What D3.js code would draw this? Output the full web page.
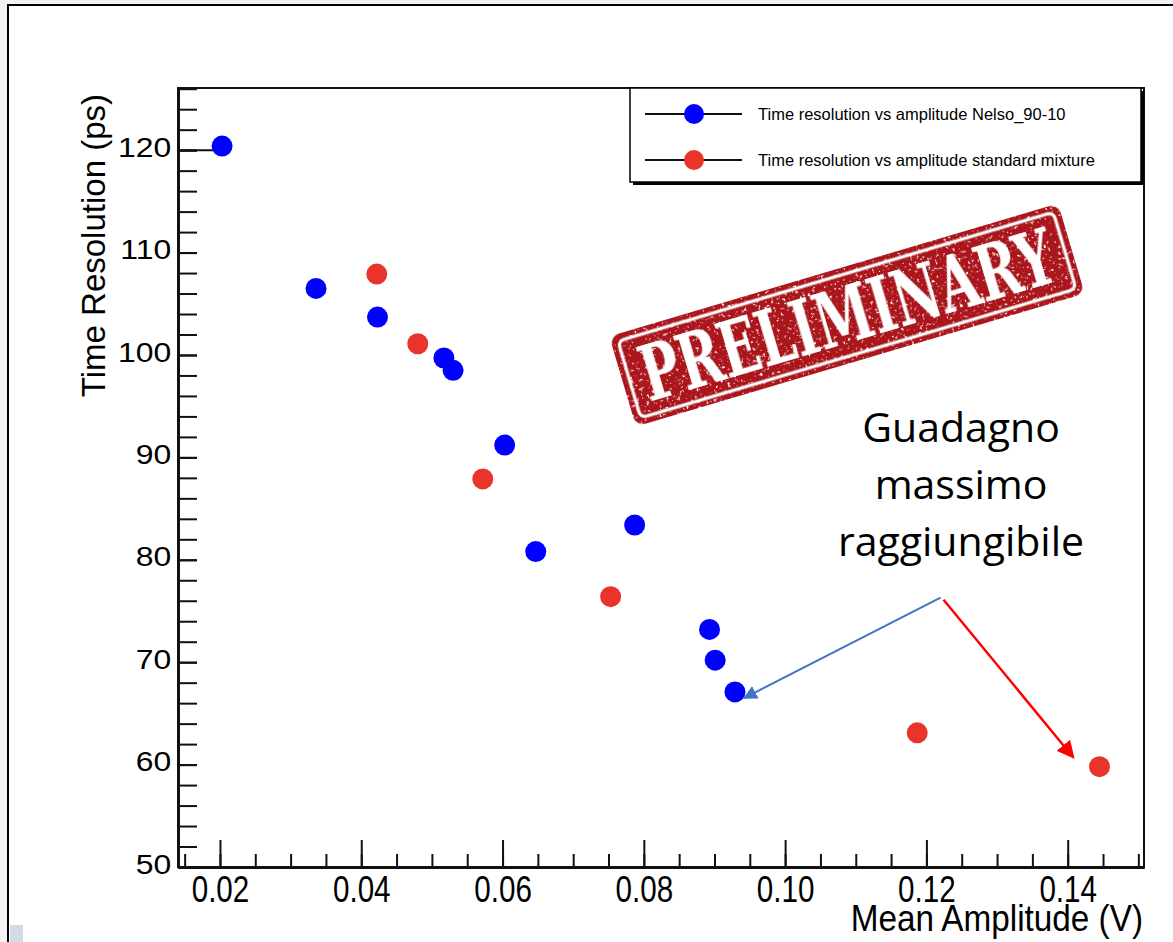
<!DOCTYPE html>
<html>
<head>
<meta charset="utf-8">
<script src="https://cdnjs.cloudflare.com/ajax/libs/d3/7.8.5/d3.min.js"></script>
<style>
body{margin:0;background:#fff;}
svg{display:block;}
</style>
</head>
<body>
<svg id="chart" width="1173" height="942"></svg>
<script>
// data
var blueX = [0.0203, 0.0336, 0.0423, 0.0517, 0.0530, 0.0603, 0.0647, 0.0787, 0.0893, 0.0901, 0.0929];
var blueY = [120.4, 106.5, 103.7, 99.7, 98.5, 91.2, 80.8, 83.4, 73.2, 70.2, 67.1];
var redX = [0.0422, 0.0480, 0.0572, 0.0753, 0.1187, 0.1445];
var redY = [107.9, 101.1, 87.9, 76.4, 63.1, 59.8];
var xMajor = [0.02, 0.04, 0.06, 0.08, 0.10, 0.12, 0.14];
var xMinor = d3.range(0.015, 0.1501, 0.005);
var yMajor = [50, 60, 70, 80, 90, 100, 110, 120];
var yMinor = d3.range(50, 126.1, 2);
var legendLabels = ["Time resolution vs amplitude Nelso_90-10", "Time resolution vs amplitude standard mixture"];
var noteLines = ["Guadagno", "massimo", "raggiungibile"];
// annotation anchors in data units
var noteAt = [0.1249, 91.5];
var arrowFrom = [0.1220, 76.3];
var blueArrowTo = [0.0942, 66.5];
var redArrowTo = [0.1408, 60.7];

var svg = d3.select("#chart");
var font = "'Liberation Sans', Arial, sans-serif";

// slide background and outer frame
svg.append("rect").attr("width", 1173).attr("height", 942).attr("fill", "#f3f3f3");
svg.append("rect").attr("x", 8).attr("y", 5).attr("width", 1165).attr("height", 937).attr("fill", "#fff");
svg.append("rect").attr("x", 10).attr("y", 925).attr("width", 13).attr("height", 17).attr("fill", "#cfdbe8");
svg.append("path").attr("d", "M8,942V5H1173").attr("fill", "none").attr("stroke", "#000").attr("stroke-width", 2);

var pLeft = 178, pRight = 1144, pTop = 88, pBottom = 867;
var x = d3.scaleLinear().domain([0.01406, 0.1508]).range([pLeft, pRight]);
var y = d3.scaleLinear().domain([50, 126.07]).range([pBottom, pTop]);

// frame
svg.append("rect").attr("x", pLeft).attr("y", pTop).attr("width", pRight - pLeft).attr("height", pBottom - pTop)
    .attr("fill", "none").attr("stroke", "#111").attr("stroke-width", 2);

// x axis: minor and major in their own groups
var gxMinor = svg.append("g").attr("transform", "translate(0," + pBottom + ")")
    .call(d3.axisBottom(x).tickValues(xMinor).tickSize(-13).tickSizeOuter(0).tickFormat(""));
var gx = svg.append("g").attr("transform", "translate(0," + pBottom + ")")
    .call(d3.axisBottom(x).tickValues(xMajor).tickSize(-27).tickSizeOuter(0).tickPadding(9).tickFormat(d3.format(".2f")));
[gxMinor, gx].forEach(function(g) {
    g.select(".domain").attr("stroke-width", 3).attr("stroke", "#111");
    g.selectAll("line").attr("stroke", "#111").attr("stroke-width", 2);
});
gx.selectAll("text").attr("font-family", font).attr("font-size", 37).attr("fill", "#000")
    .attr("transform", "scale(0.8,1)");

// y axis
var gyMinor = svg.append("g").attr("transform", "translate(" + pLeft + ",0)")
    .call(d3.axisLeft(y).tickValues(yMinor).tickSize(-19).tickSizeOuter(0).tickFormat(""));
var gy = svg.append("g").attr("transform", "translate(" + pLeft + ",0)")
    .call(d3.axisLeft(y).tickValues(yMajor).tickSize(-19).tickSizeOuter(0).tickPadding(6).tickFormat(d3.format("d")));
[gyMinor, gy].forEach(function(g) {
    g.select(".domain").attr("stroke-width", 3).attr("stroke", "#111");
    g.selectAll("line").attr("stroke", "#111").attr("stroke-width", 2);
});
gy.selectAll("text").attr("font-family", font).attr("font-size", 28).attr("fill", "#000")
    .attr("dy", "0.22em").attr("transform", "scale(1.14,1)");

// long mark at the first point
svg.append("line").attr("x1", pLeft).attr("x2", x(blueX[0])).attr("y1", y(120)).attr("y2", y(120))
    .attr("stroke", "#111").attr("stroke-width", 2);

// axis titles
svg.append("text").attr("transform", "translate(105,94) rotate(-90)")
    .attr("text-anchor", "end").attr("font-family", font).attr("font-size", 33).text("Time Resolution (ps)");
svg.append("g").attr("transform", "translate(1143,931) scale(0.9,1)")
    .append("text").attr("text-anchor", "end").attr("font-family", font).attr("font-size", 37).text("Mean Amplitude (V)");

// stamp
var defs = svg.append("defs");
var flt = defs.append("filter").attr("id", "grunge").attr("x", "-10%").attr("y", "-10%").attr("width", "120%").attr("height", "120%");
flt.append("feTurbulence").attr("type", "fractalNoise").attr("baseFrequency", 0.35).attr("numOctaves", 3).attr("seed", 7).attr("result", "n");
flt.append("feColorMatrix").attr("in", "n").attr("type", "matrix")
    .attr("values", "0 0 0 0 0  0 0 0 0 0  0 0 0 0 0  10 0 0 0 -6.4").attr("result", "m");
flt.append("feComposite").attr("in", "SourceGraphic").attr("in2", "m").attr("operator", "out");

var stamp = svg.append("g").attr("transform", "translate(847,315) rotate(-16.5)").attr("filter", "url(#grunge)");
stamp.append("rect").attr("x", -234).attr("y", -47).attr("width", 468).attr("height", 94).attr("rx", 10).attr("fill", "#ab191e");
stamp.append("rect").attr("x", -227).attr("y", -40).attr("width", 454).attr("height", 80).attr("rx", 6)
    .attr("fill", "none").attr("stroke", "#fff").attr("stroke-width", 3);
stamp.append("text").attr("x", 0).attr("y", 27).attr("text-anchor", "middle")
    .attr("font-family", "'DejaVu Serif', serif").attr("font-weight", "bold").attr("font-size", 76)
    .attr("textLength", 428).attr("lengthAdjust", "spacingAndGlyphs").attr("fill", "#fff").text("PRELIMINARY");

// legend
var lg = svg.append("g");
lg.append("rect").attr("x", 633).attr("y", 91).attr("width", 511).attr("height", 94).attr("fill", "#000");
lg.append("rect").attr("x", 630).attr("y", 88).attr("width", 511).attr("height", 94).attr("fill", "#fff")
    .attr("stroke", "#000").attr("stroke-width", 1.5);
var colors = ["#0000ff", "#e8342a"];
legendLabels.forEach(function(t, i) {
    var ly = 114 + i * 46;
    lg.append("line").attr("x1", 645).attr("x2", 742).attr("y1", ly).attr("y2", ly).attr("stroke", "#111").attr("stroke-width", 2);
    lg.append("circle").attr("cx", 694).attr("cy", ly).attr("r", 10).attr("fill", colors[i]);
    lg.append("text").attr("x", 758).attr("y", ly + 6).attr("font-family", font).attr("font-size", 16.5).text(t);
});

// points
svg.append("g").selectAll("circle").data(blueX).join("circle")
    .attr("cx", function(d) { return x(d); }).attr("cy", function(d, i) { return y(blueY[i]); })
    .attr("r", 10.5).attr("fill", colors[0]);
svg.append("g").selectAll("circle").data(redX).join("circle")
    .attr("cx", function(d) { return x(d); }).attr("cy", function(d, i) { return y(redY[i]); })
    .attr("r", 10.5).attr("fill", colors[1]);

// annotation
var note = svg.append("text").attr("text-anchor", "middle").attr("font-family", "'Open Sans', sans-serif").attr("font-size", 41);
noteLines.forEach(function(t, i) {
    note.append("tspan").attr("x", x(noteAt[0])).attr("y", y(noteAt[1]) + i * 57).text(t);
});

function arrowHead(id, col) {
    defs.append("marker").attr("id", id).attr("viewBox", "0 0 10 10").attr("refX", 9).attr("refY", 5)
        .attr("markerWidth", 7).attr("markerHeight", 7).attr("markerUnits", "strokeWidth").attr("orient", "auto")
        .append("path").attr("d", "M0,0L10,5L0,10z").attr("fill", col);
}
arrowHead("hb", "#4472c4");
arrowHead("hr", "#ff0000");
svg.append("line").attr("x1", x(arrowFrom[0])).attr("y1", y(arrowFrom[1]))
    .attr("x2", x(blueArrowTo[0])).attr("y2", y(blueArrowTo[1]))
    .attr("stroke", "#4472c4").attr("stroke-width", 2).attr("marker-end", "url(#hb)");
svg.append("line").attr("x1", x(arrowFrom[0]) + 3).attr("y1", y(arrowFrom[1]) + 2)
    .attr("x2", x(redArrowTo[0])).attr("y2", y(redArrowTo[1]))
    .attr("stroke", "#ff0000").attr("stroke-width", 2.5).attr("marker-end", "url(#hr)");
</script>
</body>
</html>
